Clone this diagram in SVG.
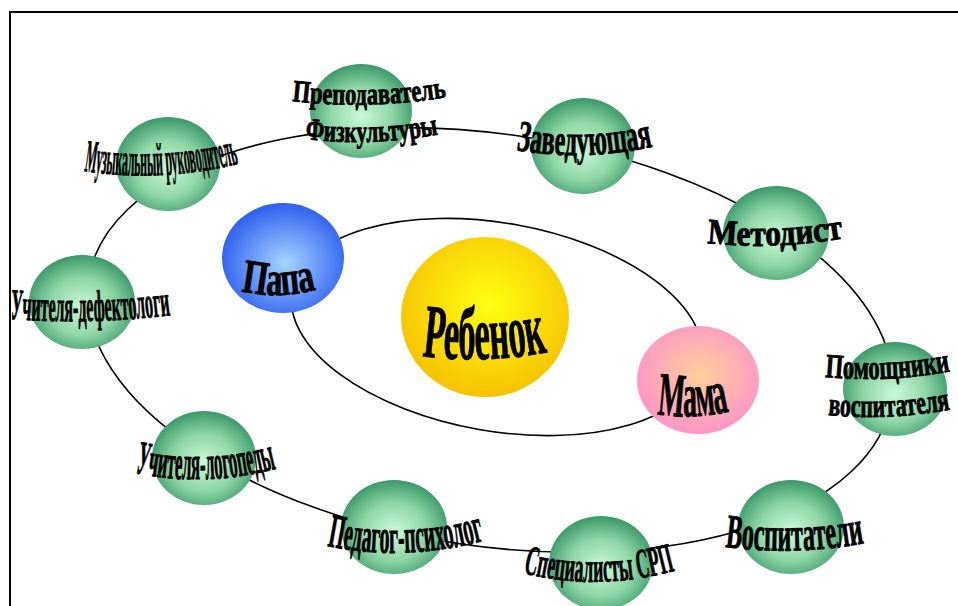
<svg xmlns="http://www.w3.org/2000/svg" xmlns:xlink="http://www.w3.org/1999/xlink" width="958" height="606" viewBox="0 0 958 606">
<style>
.lbl{font-family:"Liberation Serif","Times New Roman",serif;font-weight:bold;fill:#000;stroke:#000;stroke-width:0.9;stroke-linejoin:round;}
.orbit{fill:none;stroke:#000;stroke-width:1.6;}
.green{fill:url(#gGreen);}
</style>
<defs>
<radialGradient id="gGreen" cx="50%" cy="55%" r="55%">
<stop offset="0" stop-color="#cafad6"/>
<stop offset="0.55" stop-color="#8fd6a6"/>
<stop offset="1" stop-color="#3a9868"/>
</radialGradient>
<radialGradient id="gBlue" cx="52%" cy="55%" r="55%">
<stop offset="0" stop-color="#a6d4ff"/>
<stop offset="1" stop-color="#2f60ee"/>
</radialGradient>
<radialGradient id="gPink" cx="52%" cy="45%" r="55%">
<stop offset="0" stop-color="#ffcf98"/>
<stop offset="1" stop-color="#ff96c8"/>
</radialGradient>
<radialGradient id="gYellow" cx="52%" cy="42%" r="58%">
<stop offset="0" stop-color="#ffff14"/>
<stop offset="1" stop-color="#f6c200"/>
</radialGradient>
<path id="pMusic" d="M 84 171 Q 160 183 242 163"/>
<path id="pPrep1" d="M 292 101 Q 370 110 448 97"/>
<path id="pPrep2" d="M 305 139 Q 372 147 440 134"/>
<path id="pZaved" d="M 516 150 Q 585 162 655 146"/>
<path id="pMetod" d="M 707 243 Q 776 250 845 238"/>
<path id="pDefect" d="M 10 319 Q 90 325 172 315"/>
<path id="pLogo" d="M 135 473 Q 205 488 279 468"/>
<path id="pPed" d="M 327 546 Q 405 562 487 540"/>
<path id="pSrp" d="M 523 573 Q 598 592 678 570"/>
<path id="pVosp" d="M 725 547 Q 795 556 866 543"/>
<path id="pPom1" d="M 825 377 Q 888 383 952 371"/>
<path id="pPom2" d="M 828 415 Q 890 421 952 409"/>
<path id="pPapa" d="M 241 291 Q 280 300 318 289"/>
<path id="pMama" d="M 657 414 Q 695 420 731 411"/>
<path id="pReb" d="M 422 356 Q 485 364 548 352"/>
</defs>
<rect x="0" y="0" width="958" height="606" fill="#fff"/>
<rect x="10" y="12" width="970" height="620" fill="none" stroke="#000" stroke-width="2"/>
<g id="connectors">
<ellipse class="orbit" cx="490" cy="340" rx="406" ry="206" transform="rotate(8.5 490 340)"/>
<ellipse class="orbit" cx="497" cy="327" rx="208" ry="104" transform="rotate(10 497 327)"/>
</g>
<g id="node-papa">
<ellipse cx="283" cy="258" rx="61" ry="55" fill="url(#gBlue)"/>
<text class="lbl" font-size="48"><textPath xlink:href="#pPapa" textLength="76" lengthAdjust="spacingAndGlyphs">Папа</textPath></text>
</g>
<g id="node-rebenok">
<ellipse cx="485" cy="317" rx="84" ry="80" fill="url(#gYellow)"/>
<text class="lbl" font-size="76"><textPath xlink:href="#pReb" textLength="126" lengthAdjust="spacingAndGlyphs">Ребенок</textPath></text>
</g>
<g id="node-mama">
<ellipse cx="698" cy="380" rx="61" ry="54" fill="url(#gPink)"/>
<text class="lbl" font-size="62"><textPath xlink:href="#pMama" textLength="73" lengthAdjust="spacingAndGlyphs">Мама</textPath></text>
</g>
<g id="node-music">
<ellipse class="green" cx="168" cy="164" rx="52" ry="47"/>
<text class="lbl" font-size="46"><textPath xlink:href="#pMusic" textLength="156" lengthAdjust="spacingAndGlyphs">Музыкальный руководитель</textPath></text>
</g>
<g id="node-prep">
<ellipse class="green" cx="361" cy="111" rx="51" ry="47"/>
<text class="lbl" font-size="31"><textPath xlink:href="#pPrep1" textLength="155" lengthAdjust="spacingAndGlyphs">Преподаватель</textPath></text>
<text class="lbl" font-size="31"><textPath xlink:href="#pPrep2" textLength="134" lengthAdjust="spacingAndGlyphs">Физкультуры</textPath></text>
</g>
<g id="node-zaved">
<ellipse class="green" cx="583" cy="146" rx="52" ry="48"/>
<text class="lbl" font-size="44"><textPath xlink:href="#pZaved" textLength="138" lengthAdjust="spacingAndGlyphs">Заведующая</textPath></text>
</g>
<g id="node-metod">
<ellipse class="green" cx="776" cy="233" rx="53" ry="47"/>
<text class="lbl" font-size="36"><textPath xlink:href="#pMetod" textLength="137" lengthAdjust="spacingAndGlyphs">Методист</textPath></text>
</g>
<g id="node-pomosh">
<ellipse class="green" cx="895" cy="389" rx="52" ry="47"/>
<text class="lbl" font-size="34"><textPath xlink:href="#pPom1" textLength="126" lengthAdjust="spacingAndGlyphs">Помощники</textPath></text>
<text class="lbl" font-size="33"><textPath xlink:href="#pPom2" textLength="123" lengthAdjust="spacingAndGlyphs">воспитателя</textPath></text>
</g>
<g id="node-vosp">
<ellipse class="green" cx="791" cy="527" rx="53" ry="47"/>
<text class="lbl" font-size="48"><textPath xlink:href="#pVosp" textLength="140" lengthAdjust="spacingAndGlyphs">Воспитатели</textPath></text>
</g>
<g id="node-srp">
<ellipse class="green" cx="601" cy="563" rx="52" ry="47"/>
<text class="lbl" font-size="42"><textPath xlink:href="#pSrp" textLength="154" lengthAdjust="spacingAndGlyphs">Специалисты СРП</textPath></text>
</g>
<g id="node-ped">
<ellipse class="green" cx="394" cy="527" rx="53" ry="47"/>
<text class="lbl" font-size="48"><textPath xlink:href="#pPed" textLength="159" lengthAdjust="spacingAndGlyphs">Педагог-психолог</textPath></text>
</g>
<g id="node-logo">
<ellipse class="green" cx="204" cy="458" rx="52" ry="47"/>
<text class="lbl" font-size="48"><textPath xlink:href="#pLogo" textLength="143" lengthAdjust="spacingAndGlyphs">Учителя-логопеды</textPath></text>
</g>
<g id="node-defect">
<ellipse class="green" cx="82" cy="302" rx="53" ry="47"/>
<text class="lbl" font-size="44"><textPath xlink:href="#pDefect" textLength="161" lengthAdjust="spacingAndGlyphs">Учителя-дефектологи</textPath></text>
</g>
</svg>
